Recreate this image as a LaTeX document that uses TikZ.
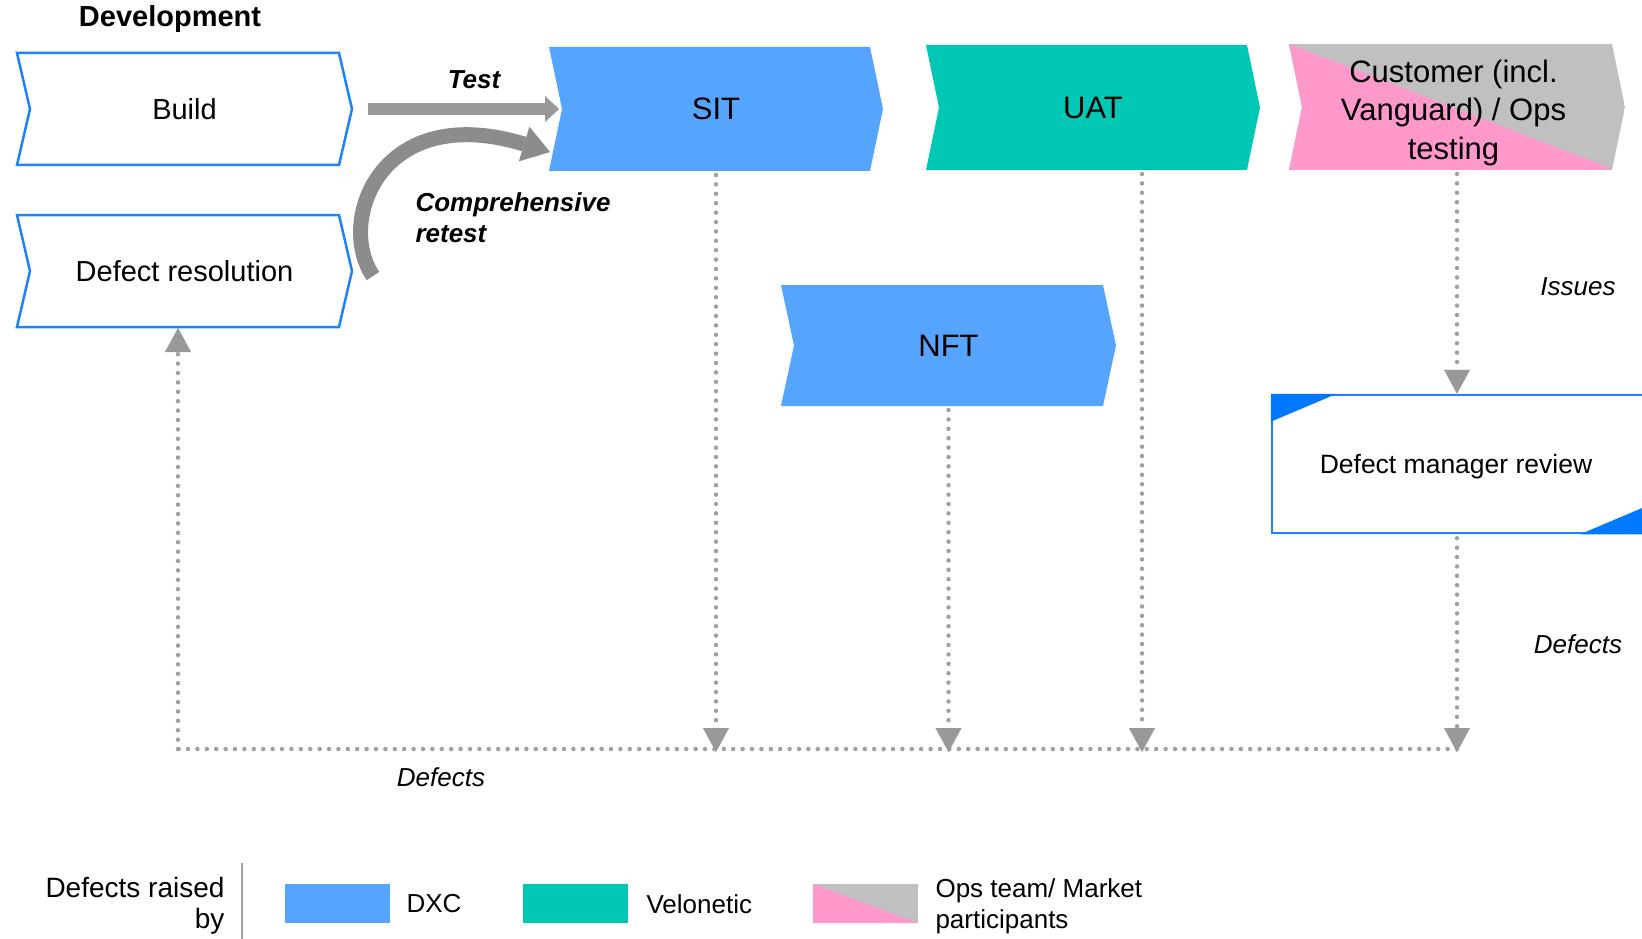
\documentclass[tikz,border=0pt]{standalone}
\usepackage{fontspec}
\setmainfont{Liberation Sans}
\usetikzlibrary{arrows.meta,calc}
\definecolor{dxcblue}{RGB}{85,165,255}
\definecolor{velteal}{RGB}{0,200,180}
\definecolor{opspink}{RGB}{255,153,204}
\definecolor{opsgray}{RGB}{192,192,192}
\definecolor{outblue}{RGB}{30,130,255}
\definecolor{cornblue}{RGB}{0,120,255}
\definecolor{dotgray}{RGB}{160,160,160}
\definecolor{arrgray}{RGB}{153,153,153}
\definecolor{curvgray}{RGB}{140,140,140}
\newcommand\fszA{\fontsize{31}{38.5}\selectfont}
\newcommand\fszB{\fontsize{29}{34}\selectfont}
\newcommand\fszC{\fontsize{26}{31}\selectfont}
\newcommand\fszD{\fontsize{26.5}{31}\selectfont}
\newcommand\fszL{\fontsize{28}{31}\selectfont}
\newcommand\chevp[1]{(#1.north west) -- ([xshift=-13pt]#1.north east) -- (#1.east) -- ([xshift=-13pt]#1.south east) -- (#1.south west) -- ([xshift=13pt]#1.west) -- cycle}
\begin{document}
\begin{tikzpicture}[x=1pt,y=-1pt,
  chev/.style={rectangle, inner sep=0pt, outer sep=0pt, align=center},
  chevfill/.style={path picture={\fill[#1] \chevp{path picture bounding box};}},
  custfill/.style={path picture={
     \clip \chevp{path picture bounding box};
     \fill[opsgray] (path picture bounding box.north west) rectangle (path picture bounding box.south east);
     \fill[opspink] (path picture bounding box.north west) -- ([xshift=-10pt]path picture bounding box.south east) -- ([yshift=-5pt]path picture bounding box.south west) -- cycle;}},
  outchev/.style={draw=outblue, line width=2.5pt, line join=miter},
  dotarrow/.style={dotgray, line width=4.5pt, dash pattern=on 0pt off 9.4pt, line cap=round,
     -{Triangle[width=26pt,length=24pt,line width=0.1pt,color=arrgray,fill=arrgray]}},
  dotline/.style={dotgray, line width=4.5pt, dash pattern=on 0pt off 9.4pt, line cap=round},
  legbox/.style={rectangle, inner sep=0pt, minimum width=105pt, minimum height=39pt},
  ital/.style={font=\fszC\itshape},
  bital/.style={font=\fszC\bfseries\itshape}
]
\useasboundingbox (0,0) rectangle (1642,939);

\node[font=\fszB\bfseries] (dev) at (170,19) {Development};

\node[chev, minimum width=335pt, minimum height=112pt, font=\fszB, text depth=0pt] (build) at (184.5,109) {Build};
\node[chev, minimum width=335pt, minimum height=112pt, font=\fszB, text depth=0pt] (defres) at (184.5,271) {Defect resolution};
\draw[outchev] \chevp{build};
\draw[outchev] \chevp{defres};

% curved "comprehensive retest" arrow (under SIT)
\coordinate (crs) at (373,276);
\coordinate (cre) at (550,152);
\draw[curvgray, line width=15pt, -{Triangle[width=36pt,length=27pt,line width=0.1pt]}]
  (crs) .. controls (336,222) and (380,100) .. (cre);

\node[chev, minimum width=334pt, minimum height=124pt, font=\fszA, chevfill=dxcblue, text depth=0pt] (sit) at (716,109) {SIT};

\draw[arrgray, line width=12pt, -{Triangle[width=26pt,length=14pt,line width=0.1pt]}]
  ([xshift=16pt]build.east) -- ([xshift=10pt]sit.west);

\node[chev, minimum width=334pt, minimum height=125pt, font=\fszA, chevfill=velteal, text depth=0pt] (uat) at (1093,107.5) {UAT};
\node[chev, minimum width=336pt, minimum height=126pt, custfill] (cust) at (1457,107) {};
\node[font=\fszA, align=center, inner sep=0pt] (custtxt) at (1453.5,112.5) {Customer (incl.\\Vanguard) / Ops\\testing};
\node[chev, minimum width=335pt, minimum height=121pt, font=\fszA, chevfill=dxcblue, text depth=0pt] (nft) at (948.5,345.5) {NFT};

\node[rectangle, draw=outblue, line width=2.5pt, minimum width=373pt, minimum height=138pt, inner sep=0pt] (dmr) at (1458.5,464) {};
\node[font=\fszD, inner sep=0pt] (dmrtxt) at (1456,467) {Defect manager review};
\fill[cornblue] (dmr.north west) -- ([xshift=66pt]dmr.north west) -- ([yshift=-28pt]dmr.north west) -- cycle;
\fill[cornblue] (dmr.south east) -- ([xshift=-66pt]dmr.south east) -- ([yshift=28pt]dmr.south east) -- cycle;

% labels
\node[bital] (testlbl) at (474,80) {Test};
\node[bital, anchor=west, align=left] (crlbl) at (412,218) {Comprehensive\\retest};
\node[ital] (issues) at (1578,287) {Issues};
\node[ital] (defr) at (1578,644) {Defects};
\node[ital] (defb) at (441,777) {Defects};

% dotted connectors
\coordinate (bus) at (178,749);
\coordinate (uatout) at ([xshift=49pt]uat.south);
\draw[dotline] (cust.south |- bus) -- (bus);
\draw[dotarrow] (bus) -- ([yshift=-1pt]bus |- defres.south);
\draw[dotarrow, shorten <=4pt] (sit.south) -- ([yshift=-3pt]sit.south |- bus);
\draw[dotarrow, shorten <=4pt] (nft.south) -- ([yshift=-3pt]nft.south |- bus);
\draw[dotarrow, shorten <=4pt] (uatout) -- ([yshift=-3pt]uatout |- bus);
\draw[dotarrow, shorten <=4pt] (cust.south) -- (cust.south |- dmr.north);
\draw[dotarrow, shorten <=4pt] (cust.south |- dmr.south) -- ([yshift=-3pt]cust.south |- bus);

% legend
\node[anchor=east, align=right, font=\fszL] (legttl) at (228,906) {Defects raised\\by};
\draw[dotgray, line width=1.5pt] (242,863) -- (242,939);
\node[legbox, fill=dxcblue] (lgdxc) at (337.5,903.5) {};
\node[anchor=west, font=\fszC] (lgdxct) at (403,904) {DXC};
\node[legbox, fill=velteal] (lgvel) at (575.5,903.5) {};
\node[anchor=west, font=\fszC] (lgvelt) at (643,904) {Velonetic};
\node[legbox, fill=opsgray, path picture={\fill[opspink] (path picture bounding box.north west) -- (path picture bounding box.south east) -- (path picture bounding box.south west) -- cycle;}] (lgops) at (865.5,903.5) {};
\node[anchor=west, align=left, font=\fszC] (lgopst) at (932,906) {Ops team/ Market\\participants};
\end{tikzpicture}
\end{document}
